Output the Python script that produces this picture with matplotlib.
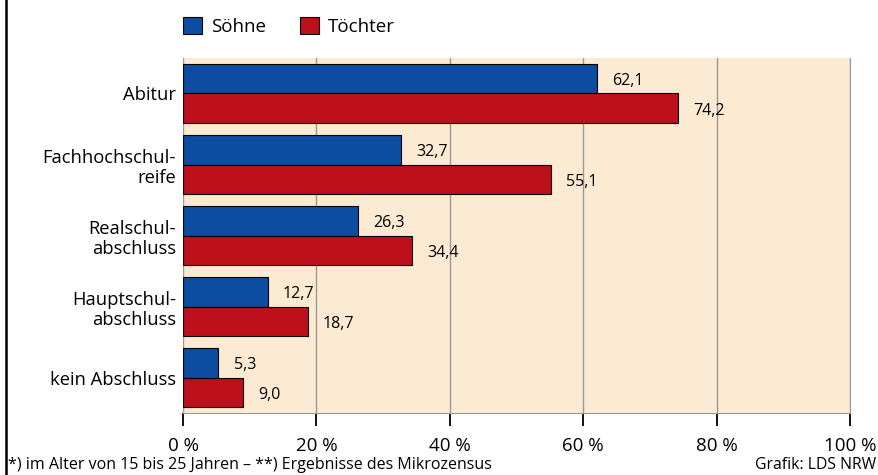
import matplotlib.pyplot as plt
import numpy as np

plt.rcParams['font.family'] = ['Open Sans', 'DejaVu Sans']

# data
categories = ["Abitur", "Fachhochschul-\nreife", "Realschul-\nabschluss",
              "Hauptschul-\nabschluss", "kein Abschluss"]
soehne = [62.1, 32.7, 26.3, 12.7, 5.3]
toechter = [74.2, 55.1, 34.4, 18.7, 9.0]
xticks = [0, 20, 40, 60, 80, 100]
xticklabels = ["0 %", "20 %", "40 %", "60 %", "80 %", "100 %"]

blue = "#0D4DA1"
red = "#BE101B"
bg = "#FDEAD2"

fig = plt.figure(figsize=(8.79, 4.75), dpi=100)
ax = fig.add_axes([0.2082, 0.1305, 0.967 - 0.2082, 0.8779 - 0.1305])
ax.set_facecolor(bg)

y = np.arange(len(categories))
h = 0.41
b1 = ax.barh(y - h / 2, soehne, height=h, color=blue, edgecolor="black",
             linewidth=0.8, label="Söhne", zorder=3)
b2 = ax.barh(y + h / 2, toechter, height=h, color=red, edgecolor="black",
             linewidth=0.8, label="Töchter", zorder=3)

# value labels
for yy, v in zip(y - h / 2, soehne):
    ax.annotate(f"{v:.1f}".replace(".", ","), (v, yy), xytext=(11, -1.5),
                textcoords="offset points", va="center", ha="left", fontsize=11.5)
for yy, v in zip(y + h / 2, toechter):
    ax.annotate(f"{v:.1f}".replace(".", ","), (v, yy), xytext=(11, -2),
                textcoords="offset points", va="center", ha="left", fontsize=11.5)

ax.set_xlim(0, 100)
ax.set_ylim(len(categories) - 0.5, -0.5)
ax.set_yticks(y)
ax.set_yticklabels(categories, fontsize=13.2, linespacing=1.15)
ax.tick_params(axis="y", length=0, pad=5)
ax.set_xticks(xticks)
ax.set_xticklabels(xticklabels, fontsize=13.5)
ax.tick_params(axis="x", length=9, width=1.3, color="black", pad=8)

ax.grid(axis="x", color="#999999", linewidth=1, zorder=0)
for s in ["top", "left"]:
    ax.spines[s].set_visible(False)
ax.spines["right"].set_color("#999999")
ax.spines["bottom"].set_color("#999999")

# legend
fig.legend(handles=[b1, b2], loc="center left", bbox_to_anchor=(0.2, 0.945),
           ncol=2, frameon=False, fontsize=13.5, handlelength=1.0, handleheight=1.0,
           handletextpad=0.5, columnspacing=1.8, borderaxespad=0)

# footnotes
fig.text(0.009, 0.022, "*) im Alter von 15 bis 25 Jahren – **) Ergebnisse des Mikrozensus",
         fontsize=11.5, ha="left", va="center")
fig.text(0.997, 0.022, "Grafik: LDS NRW", fontsize=11.3, ha="right", va="center")

# left frame line
fig.add_artist(plt.Line2D([0.0065, 0.0065], [0, 1], transform=fig.transFigure,
                          color="black", linewidth=1.8))

fig.savefig("out.png", dpi=100)
